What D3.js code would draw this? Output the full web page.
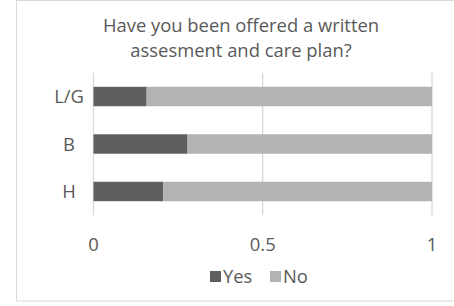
<!DOCTYPE html>
<html><head><meta charset="utf-8">
<script src="https://cdn.jsdelivr.net/npm/d3@7"></script>
<style>body{margin:0;background:#fff}svg{display:block}text{font-family:"Open Sans",sans-serif;fill:#595959}</style>
</head><body><svg id="c" width="454" height="306"></svg>
<script>
const categories = ["L/G","B","H"];
const yesValues = [0.157,0.278,0.206];
const noValues = [0.843,0.722,0.794];
const tickValues = [0,0.5,1];
const tickLabels = ["0","0.5","1"];
const seriesNames = ["Yes","No"];
const colors = ["#5f5f5f","#b3b3b3"];

const svg = d3.select("#c");
svg.append("rect").attr("x",16.5).attr("y",0.5).attr("width",460).attr("height",300.5)
  .attr("fill","#fff").attr("stroke","#d9d9d9");

const x = d3.scaleLinear().domain([0,1]).range([93.5,432]);
const y = d3.scaleBand().domain(categories).range([73,215]).paddingInner(0.59).paddingOuter(0.29);

const fs = 18.4;
const title = svg.append("text").attr("text-anchor","middle").attr("font-size",fs);
title.append("tspan").attr("x",241).attr("y",32).text("Have you been offered a written");
title.append("tspan").attr("x",241).attr("y",57).text("assesment and care plan?");

svg.append("g").selectAll("line").data(tickValues).join("line")
  .attr("x1",d=>x(d)).attr("x2",d=>x(d)).attr("y1",73).attr("y2",215)
  .attr("stroke","#d9d9d9").attr("stroke-width",1.3);

const rows = categories.map((c,i)=>({c,yes:yesValues[i],no:noValues[i]}));
const stack = d3.stack().keys(["yes","no"])(rows);
svg.append("g").selectAll("g").data(stack).join("g").attr("fill",(d,i)=>colors[i])
  .selectAll("rect").data(d=>d).join("rect")
  .attr("x",d=>x(d[0])).attr("width",d=>x(d[1])-x(d[0]))
  .attr("y",d=>y(d.data.c)).attr("height",y.bandwidth());

svg.append("g").selectAll("text").data(categories).join("text")
  .attr("x",69).attr("y",d=>y(d)+y.bandwidth()/2).attr("dy","0.36em")
  .attr("text-anchor","middle").attr("font-size",fs).text(d=>d);

svg.append("g").selectAll("text").data(tickValues).join("text")
  .attr("x",d=>x(d)).attr("y",251).attr("text-anchor","middle").attr("font-size",fs)
  .text((d,i)=>tickLabels[i]);

const lg = svg.append("g");
const lx = [210,270];
seriesNames.forEach((s,i)=>{
  lg.append("rect").attr("x",lx[i]).attr("y",271).attr("width",11).attr("height",11).attr("fill",colors[i]);
  lg.append("text").attr("x",lx[i]+13).attr("y",283).attr("font-size",fs).text(s);
});
</script></body></html>
